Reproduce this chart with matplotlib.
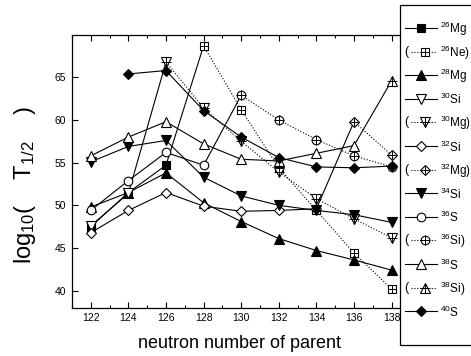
import matplotlib
matplotlib.use("Agg")
import matplotlib.pyplot as plt
from matplotlib import font_manager
from matplotlib.patches import Rectangle

# fonte estreita se houver
nomes = {f.name for f in font_manager.fontManager.ttflist}
FONTE = "Liberation Sans Narrow" if "Liberation Sans Narrow" in nomes else "Liberation Sans"
plt.rcParams["font.family"] = [FONTE, "DejaVu Sans"]
plt.rcParams["mathtext.fontset"] = "custom"
plt.rcParams["mathtext.rm"] = FONTE
plt.rcParams["mathtext.it"] = FONTE

# =============================
# DADOS
# =============================
mg26_n = [122, 124, 126]
mg26_v = [47.5, 51.5, 54.7]
ne26_n = [128, 130, 132, 134, 136, 138]
ne26_v = [68.7, 61.2, 54.4, 49.4, 44.4, 40.2]
mg28_n = [122, 124, 126, 128, 130, 132, 134, 136, 138]
mg28_v = [49.8, 51.5, 53.8, 50.3, 48.1, 46.1, 44.7, 43.6, 42.4]
si30_n = [122, 124]
si30_v = [47.6, 51.4]
mg30_n = [126, 128, 130, 132, 134, 136, 138]
mg30_v = [66.8, 61.4, 57.5, 53.9, 50.8, 48.4, 46.2]
si32_n = [122, 124, 126, 128, 130, 132, 134]
si32_v = [46.8, 49.4, 51.5, 49.9, 49.3, 49.4, 49.6]
mg32_n = [136, 138]
mg32_v = [59.8, 55.9]
si34_n = [122, 124, 126, 128, 130, 132, 134, 136, 138]
si34_v = [55.1, 56.9, 57.6, 53.3, 51.1, 50.0, 49.4, 48.9, 48.0]
s36_n = [122, 124, 126, 128]
s36_v = [49.4, 52.9, 56.2, 54.7]
si36_n = [130, 132, 134, 136, 138]
si36_v = [62.9, 60.0, 57.7, 55.8, 54.5]
s38_n = [122, 124, 126, 128, 130, 132, 134, 136]
s38_v = [55.8, 58.0, 59.8, 57.2, 55.4, 55.2, 56.1, 57.0]
si38_n = [138]
si38_v = [64.6]
s40_n = [124, 126, 128, 130, 132, 134, 136, 138]
s40_v = [65.4, 65.8, 61.1, 58.0, 55.6, 54.5, 54.4, 54.6]

x_ticks = [122, 124, 126, 128, 130, 132, 134, 136, 138]
y_ticks = [40, 45, 50, 55, 60, 65]

# (n, v, marcador, cheio, cruz, tracejado, rotulo, parenteses)
series = [
    (mg26_n, mg26_v, "s", True, False, False, "$^{26}$Mg", False),
    (ne26_n, ne26_v, "s", False, True, True, "$^{26}$Ne)", True),
    (mg28_n, mg28_v, "^", True, False, False, "$^{28}$Mg", False),
    (si30_n, si30_v, "v", False, False, False, "$^{30}$Si", False),
    (mg30_n, mg30_v, "v", False, True, True, "$^{30}$Mg)", True),
    (si32_n, si32_v, "D", False, False, False, "$^{32}$Si", False),
    (mg32_n, mg32_v, "D", False, True, True, "$^{32}$Mg)", True),
    (si34_n, si34_v, "v", True, False, False, "$^{34}$Si", False),
    (s36_n, s36_v, "o", False, False, False, "$^{36}$S", False),
    (si36_n, si36_v, "o", False, True, True, "$^{36}$Si)", True),
    (s38_n, s38_v, "^", False, False, False, "$^{38}$S", False),
    (si38_n, si38_v, "^", False, True, True, "$^{38}$Si)", True),
    (s40_n, s40_v, "D", True, False, False, "$^{40}$S", False),
]

# ligações (último ponto sólido -> primeiro ponto entre parênteses)
ligacoes = [(mg26_n, mg26_v, ne26_n, ne26_v),
            (si30_n, si30_v, mg30_n, mg30_v),
            (si32_n, si32_v, mg32_n, mg32_v),
            (s36_n, s36_v, si36_n, si36_v),
            (s38_n, s38_v, si38_n, si38_v)]

MS = {"s": 5.6, "^": 7.0, "v": 7.0, "D": 5.4, "o": 6.2}
LW = 0.8


def marcador(ax, x, y, m, cheio, cruz, z=3):
    ms = MS[m]
    ax.plot(x, y, ls="none", marker=m, ms=ms, mfc="black" if cheio else "white",
            mec="black", mew=0.8, zorder=z, clip_on=False)
    if cruz:
        ax.plot(x, y, ls="none", marker="+", ms=ms * 1.05, mec="black", mew=0.7,
                zorder=z + 0.1, clip_on=False)


fig = plt.figure(figsize=(4.71, 3.56), dpi=100)
W, H = 471.0, 356.0
ax = fig.add_axes([72 / W, 48.3 / H, (410.4 - 72) / W, (321.3 - 48.3) / H])

for n, v, m, cheio, cruz, trac, lab, par in series:
    ax.plot(n, v, color="black", lw=LW, ls=(0, (1, 1.6)) if trac else "-", zorder=2)
    marcador(ax, n, v, m, cheio, cruz)

for n1, v1, n2, v2 in ligacoes:
    ax.plot([n1[-1], n2[0]], [v1[-1], v2[0]], color="black", lw=LW, zorder=2)

ax.set_xlim(121, 139)
ax.set_ylim(38, 70)
ax.set_xticks(x_ticks)
ax.set_xticks(range(121, 140), minor=True)
ax.set_yticks(y_ticks)
ax.tick_params(which="both", direction="in", top=True, right=True, width=0.8)
ax.tick_params(which="major", length=4, labelsize=7.5, pad=4)
ax.tick_params(which="minor", length=2.5)
for s in ax.spines.values():
    s.set_linewidth(0.9)

fig.text(240 / W, 1 - 343 / H, "neutron number of parent", fontsize=13,
         ha="center", va="center")
fig.text(25 / W, 1 - 185 / H, r"log$_{10}$(    T$_{1/2}$    )", fontsize=17,
         ha="center", va="center", rotation=90)

# legenda desenhada em coordenadas de pixel
lg = fig.add_axes([0, 0, 1, 1])
lg.set_xlim(0, W)
lg.set_ylim(H, 0)
lg.axis("off")
lg.add_patch(Rectangle((400, 4.5), 100, 340.5, fill=True, fc="white", ec="black", lw=0.9))
for i, (n, v, m, cheio, cruz, trac, lab, par) in enumerate(series):
    yy = 28 + i * 23.6
    if par:
        lg.text(406, yy, "(", fontsize=9, ha="center", va="center")
        lg.plot([411, 437], [yy, yy], color="black", lw=LW, ls=(0, (1, 1.6)))
        marcador(lg, [425], [yy], m, cheio, cruz, z=5)
    else:
        lg.plot([405, 437], [yy, yy], color="black", lw=LW)
        marcador(lg, [421], [yy], m, cheio, cruz, z=5)
    lg.text(439.5, yy + 1, lab, fontsize=8.5, ha="left", va="center")

fig.savefig("out.png", dpi=100)
